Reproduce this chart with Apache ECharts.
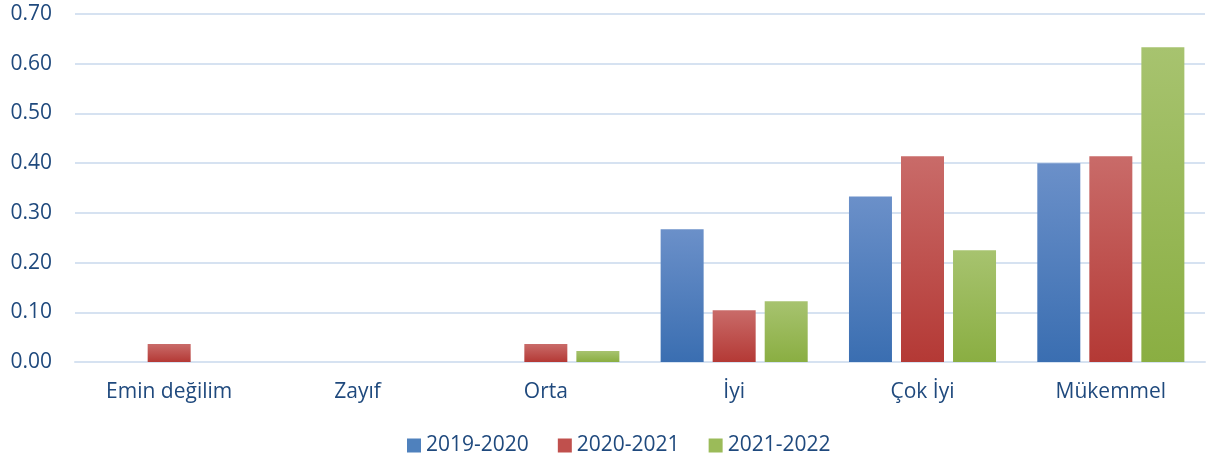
<!DOCTYPE html>
<html>
<head>
<meta charset="utf-8">
<script src="https://cdn.jsdelivr.net/npm/echarts@6/dist/echarts.min.js"></script>
<style>
  html, body { margin: 0; padding: 0; background: #fff; }
  #chart { width: 1211px; height: 464px; }
</style>
</head>
<body>
<div id="chart"></div>
<script>
const categories = ["Emin değilim", "Zayıf", "Orta", "İyi", "Çok İyi", "Mükemmel"];
const seriesNames = ["2019-2020", "2020-2021", "2021-2022"];
const values2019 = [0, 0, 0, 0.267, 0.333, 0.4];
const values2020 = [0.036, 0, 0.036, 0.104, 0.414, 0.414];
const values2021 = [0, 0, 0.022, 0.122, 0.225, 0.633];

const textColor = "#1F497D";
const fontFamily = "'Open Sans', 'Noto Sans', sans-serif";

function grad(top, bottom) {
  return new echarts.graphic.LinearGradient(0, 0, 0, 1, [
    { offset: 0, color: top },
    { offset: 1, color: bottom },
  ]);
}
const fills = [
  grad("#6B90C9", "#3A6EB1"),
  grad("#C96B69", "#B43935"),
  grad("#A7C36F", "#8AAE42"),
];
const legendColors = ["#4F81BD", "#C0504D", "#9BBB59"];

const chart = echarts.init(document.getElementById("chart"));
const allValues = [values2019, values2020, values2021];

const option = {
  animation: false,
  textStyle: { fontFamily: fontFamily },
  grid: { left: 75, right: 6, top: 14, bottom: 102, containLabel: false },
  legend: {
    bottom: 3,
    left: 402,
    itemWidth: 14,
    itemHeight: 14,
    itemGap: 29,
    icon: "rect",
    textStyle: { color: textColor, fontSize: 21, fontFamily: fontFamily },
    data: seriesNames.map((n, i) => ({ name: n, itemStyle: { color: legendColors[i] } })),
  },
  xAxis: {
    type: "category",
    data: categories,
    axisLine: { show: true, lineStyle: { color: "#D6E2F1", width: 2 } },
    axisTick: { show: false },
    axisLabel: { color: textColor, fontSize: 21, margin: 20, fontFamily: fontFamily },
  },
  yAxis: {
    type: "value",
    min: 0,
    max: 0.7,
    interval: 0.1,
    axisLine: { show: false },
    axisTick: { show: false },
    axisLabel: {
      color: textColor,
      fontSize: 21,
      margin: 23,
      fontFamily: fontFamily,
      formatter: (v) => v.toFixed(2),
    },
    splitLine: { lineStyle: { color: "#D6E2F1", width: 2 } },
  },
  series: seriesNames.map((name, i) => ({
    name: name,
    type: "bar",
    data: allValues[i],
    barWidth: 43,
    barGap: "21%",
    itemStyle: { color: fills[i] },
  })),
};
chart.setOption(option);
</script>
</body>
</html>
